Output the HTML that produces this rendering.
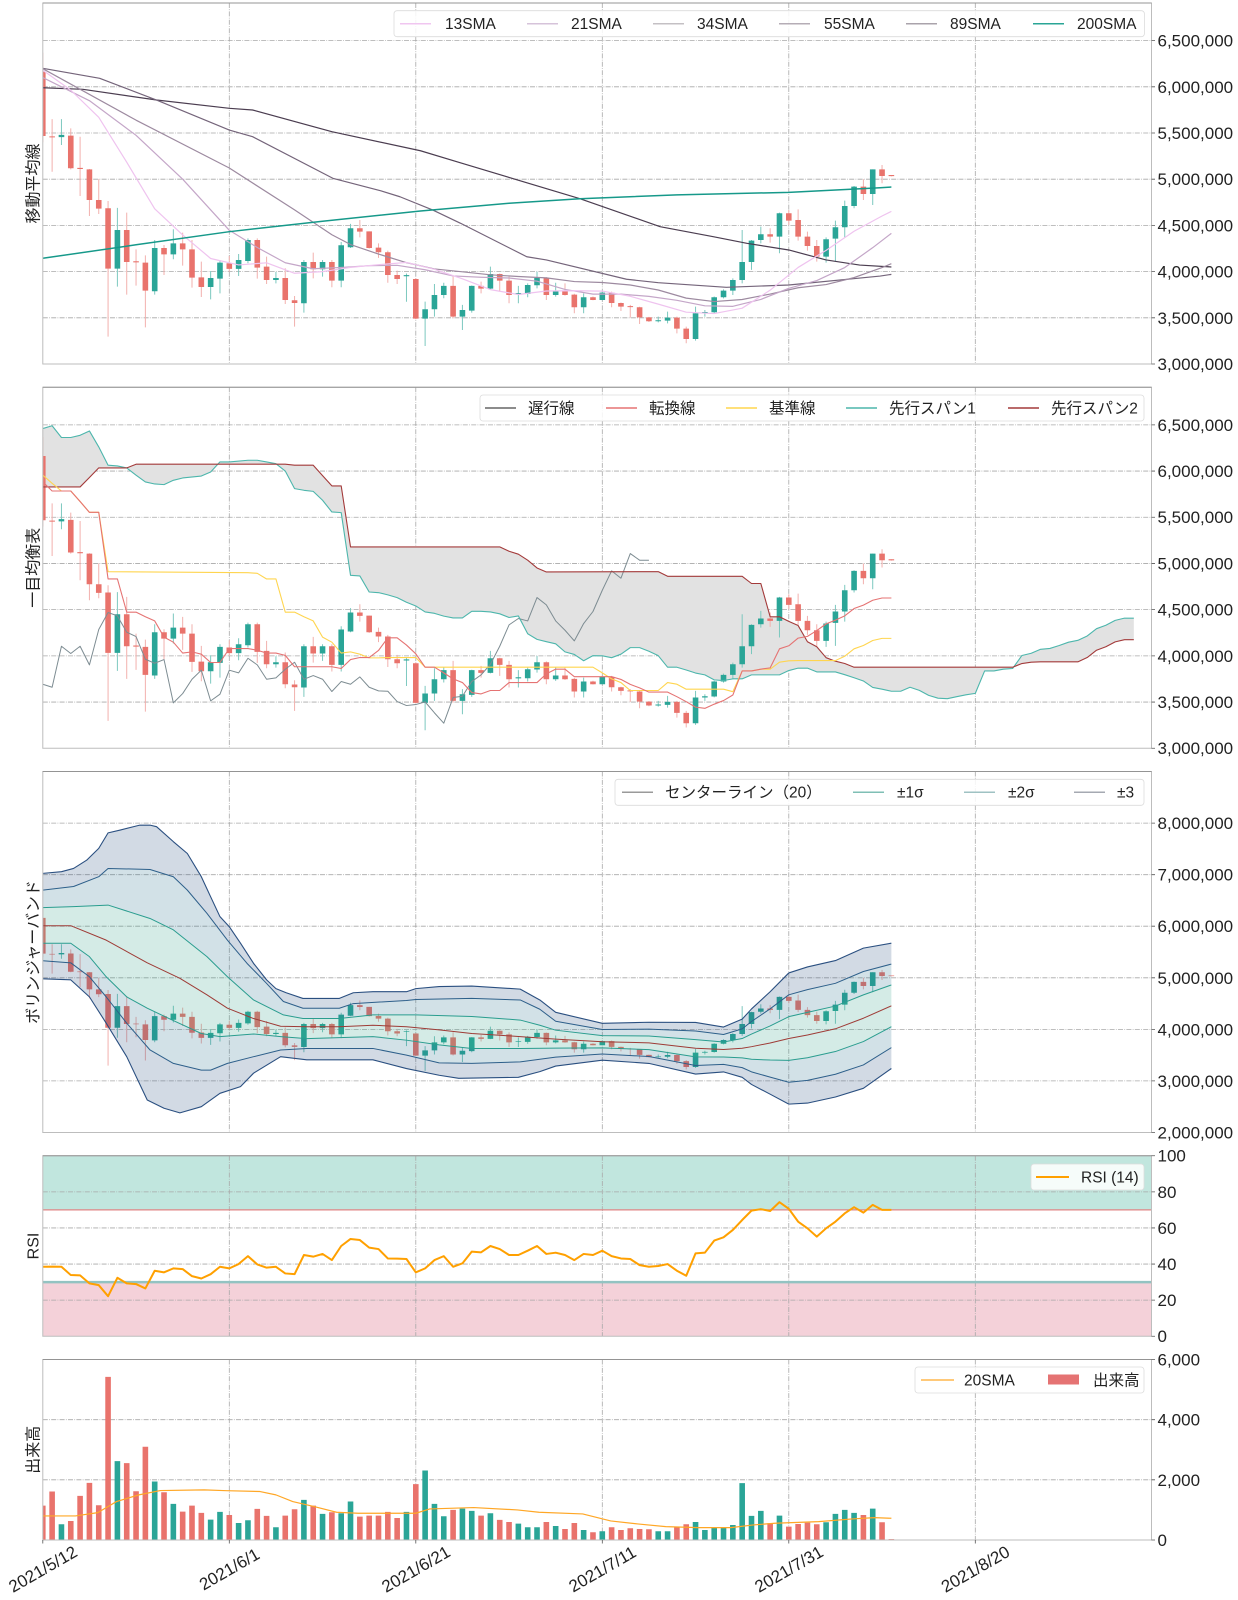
<!DOCTYPE html>
<html><head><meta charset="utf-8">
<style>
html,body{margin:0;padding:0;background:#fff;}
svg{display:block;}
text{font-family:"Liberation Sans","Noto Sans CJK JP",sans-serif;fill:#222;}
.g{stroke:#a8a8a8;stroke-width:0.8;stroke-dasharray:5,1.3,0.8,1.3;fill:none;}
.sp{fill:none;stroke:#bdbdbd;stroke-width:1;}
.tk{stroke:#555;stroke-width:0.8;}
.yt{font-size:17px;}
.lg{font-size:15.5px;}
.lb{fill:#fff;fill-opacity:0.85;stroke:#dcdcdc;stroke-width:0.8;}
</style></head>
<body>
<svg width="1238" height="1600" viewBox="0 0 1238 1600" xmlns="http://www.w3.org/2000/svg">
<defs>
<clipPath id="c0"><rect x="42.8" y="3" width="1108.7" height="361"/></clipPath>
<clipPath id="c1"><rect x="42.8" y="387.25" width="1108.7" height="361"/></clipPath>
<clipPath id="c2"><rect x="42.8" y="771.5" width="1108.7" height="361"/></clipPath>
<clipPath id="c3"><rect x="42.8" y="1155.75" width="1108.7" height="180.5"/></clipPath>
<clipPath id="c4"><rect x="42.8" y="1359.5" width="1108.7" height="180.5"/></clipPath>
<g id="cdl">
<path fill="#f2b0ad" d="M-.054 5.4h.107v.97h-.107zM.946 5.081h.107v.569h-.107zM2.946 5.107h.107v.443h-.107zM3.946 4.818h.107v.642h-.107zM4.946 4.602h.107v.508h-.107zM5.946 4.624h.107v.376h-.107zM6.946 3.296h.107v1.468h-.107zM8.946 3.751h.107v.887h-.107zM9.946 3.848h.107v.393h-.107zM10.946 3.397h.107v.779h-.107zM12.946 3.963h.107v.325h-.107zM14.946 4.065h.107v.357h-.107zM15.946 3.826h.107v.516h-.107zM16.946 3.725h.107v.383h-.107zM19.946 3.999h.107v.17h-.107zM22.946 3.924h.107v.436h-.107zM23.946 3.866h.107v.296h-.107zM25.946 3.65h.107v.386h-.107zM26.946 3.404h.107v.332h-.107zM28.946 3.927h.107v.278h-.107zM30.946 3.83h.107v.296h-.107zM33.946 4.371h.107v.188h-.107zM34.946 4.249h.107v.187h-.107zM35.946 4.148h.107v.158h-.107zM36.946 3.88h.107v.347h-.107zM37.946 3.866h.107v.144h-.107zM39.946 3.484h.107v.446h-.107zM43.946 3.494h.107v.451h-.107zM46.946 3.765h.107v.126h-.107zM48.946 3.783h.107v.197h-.107zM49.946 3.657h.107v.288h-.107zM53.946 3.693h.107v.247h-.107zM55.946 3.74h.107v.133h-.107zM56.946 3.549h.107v.211h-.107zM58.946 3.69h.107v.04h-.107zM60.946 3.614h.107v.169h-.107zM61.946 3.574h.107v.091h-.107zM62.946 3.502h.107v.138h-.107zM63.946 3.433h.107v.187h-.107zM64.946 3.455h.107v.055h-.107zM67.946 3.332h.107v.181h-.107zM68.946 3.224h.107v.18h-.107zM77.946 4.313h.107v.156h-.107zM79.946 4.505h.107v.162h-.107zM80.946 4.335h.107v.339h-.107zM81.946 4.227h.107v.205h-.107zM82.946 4.108h.107v.234h-.107zM87.946 4.775h.107v.225h-.107zM89.946 4.956h.107v.198h-.107zM90.946 5.03h.107v.015h-.107z"/>
<path fill="#7cc8bf" d="M1.946 5.37h.107v.28h-.107zM7.946 3.837h.107v.852h-.107zM11.946 3.751h.107v.591h-.107zM13.946 4.133h.107v.325h-.107zM17.946 3.7h.107v.307h-.107zM18.946 3.765h.107v.361h-.107zM20.946 3.953h.107v.238h-.107zM21.946 4.09h.107v.27h-.107zM24.946 3.873h.107v.123h-.107zM27.946 3.556h.107v.57h-.107zM29.946 3.945h.107v.181h-.107zM31.946 3.83h.107v.491h-.107zM32.946 4.256h.107v.26h-.107zM38.946 3.674h.107v.306h-.107zM40.946 3.195h.107v.48h-.107zM41.946 3.513h.107v.353h-.107zM42.946 3.711h.107v.169h-.107zM44.946 3.368h.107v.272h-.107zM45.946 3.556h.107v.294h-.107zM47.946 3.81h.107v.244h-.107zM50.946 3.657h.107v.188h-.107zM51.946 3.722h.107v.151h-.107zM52.946 3.819h.107v.181h-.107zM54.946 3.729h.107v.151h-.107zM57.946 3.549h.107v.216h-.107zM59.946 3.69h.107v.093h-.107zM65.946 3.451h.107v.062h-.107zM66.946 3.44h.107v.127h-.107zM69.946 3.253h.107v.368h-.107zM70.946 3.513h.107v.072h-.107zM71.946 3.55h.107v.18h-.107zM72.946 3.71h.107v.098h-.107zM73.946 3.747h.107v.18h-.107zM74.946 3.873h.107v.577h-.107zM75.946 4.018h.107v.324h-.107zM76.946 4.306h.107v.181h-.107zM78.946 4.198h.107v.44h-.107zM83.946 4.097h.107v.274h-.107zM84.946 4.108h.107v.444h-.107zM85.946 4.371h.107v.397h-.107zM86.946 4.685h.107v.242h-.107zM88.946 4.721h.107v.386h-.107z"/>
<path fill="#e9736c" d="M-.3 5.468h.6v.695h-.6zM.7 5.452h.6v.012h-.6zM2.7 5.118h.6v.353h-.6zM3.7 5.11h.6v.012h-.6zM4.7 4.775h.6v.332h-.6zM5.7 4.681h.6v.094h-.6zM6.7 4.032h.6v.653h-.6zM8.7 4.104h.6v.346h-.6zM9.7 4.1h.6v.012h-.6zM10.7 3.794h.6v.303h-.6zM12.7 4.187h.6v.069h-.6zM14.7 4.241h.6v.065h-.6zM15.7 3.935h.6v.306h-.6zM16.7 3.834h.6v.104h-.6zM19.7 4.029h.6v.061h-.6zM22.7 4.043h.6v.299h-.6zM23.7 3.909h.6v.145h-.6zM25.7 3.693h.6v.238h-.6zM26.7 3.66h.6v.03h-.6zM28.7 4.025h.6v.079h-.6zM30.7 3.902h.6v.202h-.6zM33.7 4.433h.6v.036h-.6zM34.7 4.256h.6v.18h-.6zM35.7 4.209h.6v.05h-.6zM36.7 3.963h.6v.246h-.6zM37.7 3.92h.6v.043h-.6zM39.7 3.491h.6v.429h-.6zM43.7 3.513h.6v.332h-.6zM46.7 3.816h.6v.029h-.6zM48.7 3.902h.6v.072h-.6zM49.7 3.747h.6v.155h-.6zM53.7 3.747h.6v.184h-.6zM55.7 3.747h.6v.04h-.6zM56.7 3.614h.6v.137h-.6zM58.7 3.693h.6v.029h-.6zM60.7 3.66h.6v.112h-.6zM61.7 3.621h.6v.039h-.6zM62.7 3.615h.6v.012h-.6zM63.7 3.505h.6v.109h-.6zM64.7 3.462h.6v.043h-.6zM67.7 3.383h.6v.119h-.6zM68.7 3.271h.6v.112h-.6zM77.7 4.378h.6v.026h-.6zM79.7 4.552h.6v.079h-.6zM80.7 4.378h.6v.181h-.6zM81.7 4.277h.6v.101h-.6zM82.7 4.162h.6v.115h-.6zM87.7 4.84h.6v.08h-.6zM89.7 5.035h.6v.072h-.6zM90.7 5.033h.6v.012h-.6z"/>
<path fill="#2aa597" d="M1.7 5.455h.6v.025h-.6zM7.7 4.032h.6v.418h-.6zM11.7 3.787h.6v.469h-.6zM13.7 4.187h.6v.119h-.6zM17.7 3.834h.6v.097h-.6zM18.7 3.924h.6v.173h-.6zM20.7 4.029h.6v.097h-.6zM21.7 4.115h.6v.227h-.6zM24.7 3.909h.6v.022h-.6zM27.7 3.657h.6v.447h-.6zM29.7 4.025h.6v.079h-.6zM31.7 3.902h.6v.383h-.6zM32.7 4.263h.6v.206h-.6zM38.7 3.95h.6v.012h-.6zM40.7 3.491h.6v.101h-.6zM41.7 3.592h.6v.155h-.6zM42.7 3.747h.6v.098h-.6zM44.7 3.513h.6v.072h-.6zM45.7 3.578h.6v.267h-.6zM47.7 3.816h.6v.158h-.6zM50.7 3.756h.6v.012h-.6zM51.7 3.758h.6v.097h-.6zM52.7 3.852h.6v.079h-.6zM54.7 3.747h.6v.04h-.6zM57.7 3.614h.6v.108h-.6zM59.7 3.693h.6v.079h-.6zM65.7 3.462h.6v.012h-.6zM66.7 3.469h.6v.033h-.6zM69.7 3.271h.6v.278h-.6zM70.7 3.549h.6v.014h-.6zM71.7 3.56h.6v.162h-.6zM72.7 3.722h.6v.072h-.6zM73.7 3.794h.6v.115h-.6zM74.7 3.909h.6v.195h-.6zM75.7 4.104h.6v.231h-.6zM76.7 4.342h.6v.062h-.6zM78.7 4.378h.6v.253h-.6zM83.7 4.162h.6v.188h-.6zM84.7 4.357h.6v.123h-.6zM85.7 4.48h.6v.23h-.6zM86.7 4.71h.6v.21h-.6zM88.7 4.84h.6v.267h-.6z"/>
</g>
</defs>

<!-- ===== Panel 1 ===== -->
<path class="g" d="M42.8 317.8H1151.5M42.8 271.6H1151.5M42.8 225.4H1151.5M42.8 179.2H1151.5M42.8 133H1151.5M42.8 86.8H1151.5M42.8 40.6H1151.5M229.3 3V364M415.8 3V364M602.3 3V364M788.8 3V364M975.3 3V364"/>
<g clip-path="url(#c0)">
<g transform="translate(42.8 641.2) scale(9.325 -92.4)">
<use href="#cdl"/>
<g fill="none" stroke-linejoin="round">
<polyline vector-effect="non-scaling-stroke" stroke="#4b3d50" stroke-width="1.2" points="0,5.99 4.3,5.973 12.2,5.857 20,5.767 22.5,5.749 31,5.514 40.5,5.308 44.7,5.18 57.6,4.789 66.2,4.486 71.9,4.378 75.5,4.306 80,4.234 84,4.126 87.6,4.071 91,4.05"/>
<polyline vector-effect="non-scaling-stroke" stroke="#74647a" stroke-width="1.2" points="0,6.2 6.1,6.092 12.2,5.857 20,5.532 22.5,5.46 31.1,5.01 36.2,4.876 38.3,4.81 41.8,4.667 44.8,4.523 51.9,4.161 54,4.126 62.6,3.917 66,3.88 73.3,3.83 80,3.855 89.8,3.952 91,3.97"/>
<polyline vector-effect="non-scaling-stroke" stroke="#9d8aa0" stroke-width="1.2" points="0,6.196 10,5.639 20,5.121 27,4.668 31,4.399 33,4.293 36,4.19 39,4.097 42,4.029 45,3.998 48,3.965 51,3.947 54,3.932 57,3.892 60,3.882 63,3.855 66,3.801 69,3.713 72,3.676 75,3.698 78,3.757 81,3.825 84,3.86 87,3.935 90,4.044 91,4.086"/>
<polyline vector-effect="non-scaling-stroke" stroke="#c4a6c8" stroke-width="1.2" points="0,6.1 5,5.85 10,5.475 15,5.0 20,4.447 23,4.261 26,4.096 29,4.031 32,4.045 35,4.064 38,4.068 41,4.02 44,3.953 47,3.939 50,3.931 53,3.896 56,3.807 59,3.756 62,3.756 65,3.732 68,3.689 71,3.63 74,3.624 77,3.699 80,3.819 83,3.903 86,4.044 89,4.259 91,4.414"/>
<polyline vector-effect="non-scaling-stroke" stroke="#efc3ef" stroke-width="1.2" points="0,6.179 3,5.964 6,5.67 9,5.184 12,4.679 15,4.397 18,4.142 21,4.072 24,4.095 27,3.982 30,4.0 33,4.046 36,4.075 39,4.099 42,4.025 45,3.922 48,3.805 51,3.752 54,3.79 57,3.793 60,3.789 63,3.733 66,3.648 69,3.561 72,3.546 75,3.604 78,3.799 81,4.045 84,4.23 87,4.437 90,4.602 91,4.652"/>
<polyline vector-effect="non-scaling-stroke" stroke="#16998a" stroke-width="1.5" points="0,4.144 10,4.29 20,4.432 30,4.545 40.5,4.656 50,4.74 57.6,4.789 68,4.83 80,4.858 89.8,4.908 91,4.915"/>
</g>
</g>
</g>

<!-- ===== Panel 2 ===== -->
<path class="g" d="M42.8 702.05H1151.5M42.8 655.85H1151.5M42.8 609.65H1151.5M42.8 563.45H1151.5M42.8 517.25H1151.5M42.8 471.05H1151.5M42.8 424.85H1151.5M229.3 387.25V748.25M415.8 387.25V748.25M602.3 387.25V748.25M788.8 387.25V748.25M975.3 387.25V748.25"/>
<g clip-path="url(#c1)">
<g transform="translate(42.8 1025.45) scale(9.325 -92.4)">
<polygon fill="#e2e2e2" points="0,6.46 1,6.49 2,6.363 3,6.363 4,6.387 5,6.434 6,6.261 7,6.063 8,6.055 9,6.034 10,5.955 11,5.882 12,5.86 13,5.853 14,5.9 15,5.925 17,5.946 18,5.99 19,6.099 20,6.099 22,6.117 23,6.117 24,6.099 25,6.08 26,6.0 27,5.81 28,5.792 29,5.78 30,5.684 31,5.557 32,5.55 33,4.872 34,4.865 35,4.691 36,4.684 37,4.66 38,4.63 39,4.58 40,4.54 41,4.475 42,4.46 43,4.43 44,4.41 45,4.41 46,4.482 47,4.482 48,4.475 49,4.455 50,4.415 51,4.432 52,4.239 53,4.178 54,4.153 55,4.13 56,4.043 57,4.015 58,3.947 59,4.002 60,4.0 61,3.98 62,4.018 63,4.089 64,4.089 65,4.05 66,4.002 67,3.877 68,3.877 69,3.847 70,3.814 71,3.794 72,3.74 73,3.733 74,3.751 75,3.751 76,3.794 79,3.794 80,3.841 81,3.867 82,3.867 83,3.826 85,3.826 86,3.796 87,3.763 88,3.728 89,3.658 90,3.639 91,3.617 92,3.617 93,3.66 94,3.626 95,3.572 96,3.542 97,3.536 98,3.558 99,3.578 100,3.594 101,3.837 102,3.837 103,3.856 104,3.863 105,4.004 106,4.028 107,4.071 108,4.08 109,4.112 110,4.148 111,4.168 112,4.215 113,4.294 114,4.331 115,4.384 116,4.408 117,4.408 117,4.175 116,4.175 115,4.151 114,4.098 113,4.061 112,3.982 111,3.935 107,3.935 106,3.931 105,3.917 104,3.877 87,3.877 86,3.917 85,3.942 84,3.98 83,4.098 82,4.153 81,4.328 80,4.373 79,4.423 78,4.423 77,4.783 76,4.783 75,4.861 67,4.861 66,4.911 54,4.908 53,4.951 52,5.035 51,5.1 50,5.132 49,5.179 33,5.179 32,5.839 31,5.839 30,5.95 29,6.063 27,6.063 26,6.074 10,6.074 9,6.034 6,6.034 5,5.93 4,5.828 0,5.828"/>
<use href="#cdl"/>
<g fill="none" stroke-linejoin="round">
<polyline vector-effect="non-scaling-stroke" stroke="#7d8c92" stroke-width="1" points="0,3.693 1,3.66 2,4.104 3,4.025 4,4.104 5,3.902 6,4.285 7,4.469 8,4.433 9,4.256 10,4.209 11,3.963 12,3.92 13,3.96 14,3.491 15,3.592 16,3.747 17,3.845 18,3.513 19,3.585 20,3.845 21,3.816 22,3.974 23,3.902 24,3.747 25,3.762 26,3.855 27,3.931 28,3.747 29,3.787 30,3.747 31,3.614 32,3.722 33,3.693 34,3.772 35,3.66 36,3.621 37,3.617 38,3.505 39,3.462 40,3.473 41,3.502 42,3.383 43,3.271 44,3.549 45,3.563 46,3.722 47,3.794 48,3.909 49,4.104 50,4.335 51,4.404 52,4.378 53,4.631 54,4.552 55,4.378 56,4.277 57,4.162 58,4.35 59,4.48 60,4.71 61,4.92 62,4.84 63,5.107 64,5.035 65,5.035"/>
<polyline vector-effect="non-scaling-stroke" stroke="#4db6ac" stroke-width="1.1" points="0,6.46 1,6.49 2,6.363 3,6.363 4,6.387 5,6.434 6,6.261 7,6.063 8,6.055 9,6.034 10,5.955 11,5.882 12,5.86 13,5.853 14,5.9 15,5.925 17,5.946 18,5.99 19,6.099 20,6.099 22,6.117 23,6.117 24,6.099 25,6.08 26,6.0 27,5.81 28,5.792 29,5.78 30,5.684 31,5.557 32,5.55 33,4.872 34,4.865 35,4.691 36,4.684 37,4.66 38,4.63 39,4.58 40,4.54 41,4.475 42,4.46 43,4.43 44,4.41 45,4.41 46,4.482 47,4.482 48,4.475 49,4.455 50,4.415 51,4.432 52,4.239 53,4.178 54,4.153 55,4.13 56,4.043 57,4.015 58,3.947 59,4.002 60,4.0 61,3.98 62,4.018 63,4.089 64,4.089 65,4.05 66,4.002 67,3.877 68,3.877 69,3.847 70,3.814 71,3.794 72,3.74 73,3.733 74,3.751 75,3.751 76,3.794 79,3.794 80,3.841 81,3.867 82,3.867 83,3.826 85,3.826 86,3.796 87,3.763 88,3.728 89,3.658 90,3.639 91,3.617 92,3.617 93,3.66 94,3.626 95,3.572 96,3.542 97,3.536 98,3.558 99,3.578 100,3.594 101,3.837 102,3.837 103,3.856 104,3.863 105,4.004 106,4.028 107,4.071 108,4.08 109,4.112 110,4.148 111,4.168 112,4.215 113,4.294 114,4.331 115,4.384 116,4.408 117,4.408"/>
<polyline vector-effect="non-scaling-stroke" stroke="#a33a3a" stroke-width="1.1" points="0,5.828 4,5.828 5,5.93 6,6.034 9,6.034 10,6.074 26,6.074 27,6.063 29,6.063 30,5.95 31,5.839 32,5.839 33,5.179 49,5.179 50,5.132 51,5.1 52,5.035 53,4.951 54,4.908 66,4.911 67,4.861 75,4.861 76,4.783 77,4.783 78,4.423 79,4.423 80,4.373 81,4.328 82,4.153 83,4.098 84,3.98 85,3.942 86,3.917 87,3.877 104,3.877 105,3.917 106,3.931 107,3.935 111,3.935 112,3.982 113,4.061 114,4.098 115,4.151 116,4.175 117,4.175"/>
<polyline vector-effect="non-scaling-stroke" stroke="#ffd54f" stroke-width="1.1" points="0,5.955 1,5.867 2,5.784 3,5.784 4,5.67 5,5.553 6,5.553 7,4.911 22,4.9 23,4.893 24,4.832 25,4.833 26,4.473 27,4.473 28,4.423 29,4.378 30,4.203 31,4.148 32,4.03 33,4.043 34,4.018 35,3.978 36,3.978 37,3.982 40,3.982 41,3.877 59,3.877 60,3.816 61,3.751 62,3.711 63,3.625 66,3.625 67,3.711 68,3.693 69,3.639 73,3.639 74,3.612 75,3.837 76,3.837 77,3.856 78,3.856 79,3.931 80,3.946 81,3.949 85,3.949 86,3.996 87,4.076 88,4.112 89,4.166 90,4.189 91,4.189"/>
<polyline vector-effect="non-scaling-stroke" stroke="#e57373" stroke-width="1.1" points="0,5.882 1,5.784 3,5.784 4,5.67 5,5.553 6,5.553 7,4.832 8,4.833 9,4.473 10,4.473 11,4.423 12,4.378 13,4.203 14,4.148 15,4.03 16,4.043 17,4.018 18,3.928 19,3.928 20,4.079 22,4.079 23,4.061 24,4.03 25,4.03 26,4.005 27,3.882 31,3.882 32,3.863 33,3.96 34,3.982 35,3.982 36,4.058 37,4.195 38,4.195 39,4.117 40,4.022 41,3.877 42,3.877 43,3.816 44,3.751 45,3.711 46,3.603 47,3.588 48,3.625 49,3.625 50,3.711 53,3.711 54,3.805 55,3.856 56,3.856 57,3.775 61,3.775 62,3.745 63,3.691 64,3.653 65,3.608 67,3.608 68,3.558 69,3.504 70,3.445 71,3.432 72,3.477 73,3.516 74,3.576 75,3.837 76,3.837 77,3.856 78,3.87 79,4.076 80,4.109 81,4.192 82,4.211 83,4.274 84,4.346 85,4.386 86,4.433 87,4.512 88,4.549 89,4.602 90,4.626 91,4.626"/>
</g>
</g>
</g>

<!-- ===== Panel 3 ===== -->
<path class="g" d="M42.8 1080.9H1151.5M42.8 1029.4H1151.5M42.8 977.8H1151.5M42.8 926.2H1151.5M42.8 874.7H1151.5M42.8 823.1H1151.5M229.3 771.5V1132.5M415.8 771.5V1132.5M602.3 771.5V1132.5M788.8 771.5V1132.5M975.3 771.5V1132.5"/>
<g clip-path="url(#c2)">
<g transform="translate(42.8 1235.64) scale(9.325 -51.57)">
<use href="#cdl"/>
<polygon fill="rgb(30,70,120)" fill-opacity="0.2" points="0,7.025 2,7.057 3.3,7.12 4.7,7.28 6,7.51 7,7.81 8.3,7.865 10.4,7.96 11.5,7.96 12.2,7.93 14,7.64 15.5,7.41 17,6.96 18,6.57 19,6.185 20,5.99 21.2,5.67 22.6,5.28 24,4.96 25,4.79 26.1,4.71 27.9,4.6 31.8,4.6 33.3,4.71 35.4,4.73 39,4.73 40,4.79 42.5,4.83 46,4.84 51.2,4.78 53.3,4.57 55,4.33 60,4.117 65,4.138 70,4.135 73,4.045 75,4.198 76,4.396 78,4.729 80,5.094 82,5.21 85,5.334 88,5.575 91,5.671 91,5.266 88,5.122 85,4.893 82,4.77 80,4.67 78,4.398 76,4.152 75,4.01 73,3.9 70,3.968 65,4.005 60,3.998 55,4.158 53.3,4.39 51.2,4.57 46,4.6 40,4.58 39,4.56 33.3,4.5 31.8,4.41 27.9,4.41 25.8,4.54 24,4.89 21.9,5.28 19.8,5.73 17.6,6.25 15.5,6.7 14,6.96 11.5,7.1 7,7.12 6,6.96 3.3,6.77 0,6.7"/>
<polygon fill="rgb(30,105,135)" fill-opacity="0.2" points="0,6.7 3.3,6.77 6,6.96 7,7.12 11.5,7.1 14,6.96 15.5,6.7 17.6,6.25 19.8,5.73 21.9,5.28 24,4.89 25.8,4.54 27.9,4.41 31.8,4.41 33.3,4.5 39,4.56 40,4.58 46,4.6 51.2,4.57 53.3,4.39 55,4.158 60,3.998 65,4.005 70,3.968 73,3.9 75,4.01 76,4.152 78,4.398 80,4.67 82,4.77 85,4.893 88,5.122 91,5.266 91,4.861 88,4.669 85,4.452 82,4.33 80,4.246 78,4.067 76,3.908 75,3.822 73,3.755 70,3.801 65,3.872 60,3.879 55,3.984 53.3,4.08 51.2,4.18 46,4.25 40,4.28 35.4,4.28 31.8,4.21 27.9,4.21 25.8,4.28 22.6,4.57 19.8,5.02 17.6,5.41 14,5.93 11.5,6.15 7,6.41 3.3,6.38 0,6.36"/>
<polygon fill="rgb(40,155,130)" fill-opacity="0.2" points="0,6.36 3.3,6.38 7,6.41 11.5,6.15 14,5.93 17.6,5.41 19.8,5.02 22.6,4.57 25.8,4.28 27.9,4.21 31.8,4.21 35.4,4.28 40,4.28 46,4.25 51.2,4.18 53.3,4.08 55,3.984 60,3.879 65,3.872 70,3.801 73,3.755 75,3.822 76,3.908 78,4.067 80,4.246 82,4.33 85,4.452 88,4.669 91,4.861 91,4.051 88,3.763 85,3.57 82,3.45 80,3.398 78,3.405 76,3.42 75,3.446 73,3.465 70,3.467 65,3.606 60,3.641 55,3.636 51.2,3.63 46,3.63 42.5,3.7 39,3.79 35.4,3.86 31.8,3.84 28.3,3.82 25.5,3.86 22.6,3.91 19,3.86 17,3.92 14,4.17 11.2,4.41 9,4.63 6.8,5.02 5,5.41 3,5.67 0,5.67"/>
<polygon fill="rgb(30,105,135)" fill-opacity="0.2" points="0,5.67 3,5.67 5,5.41 6.8,5.02 9,4.63 11.2,4.41 14,4.17 17,3.92 19,3.86 22.6,3.91 25.5,3.86 28.3,3.82 31.8,3.84 35.4,3.86 39,3.79 42.5,3.7 46,3.63 51.2,3.63 55,3.636 60,3.641 65,3.606 70,3.467 73,3.465 75,3.446 76,3.42 78,3.405 80,3.398 82,3.45 85,3.57 88,3.763 91,4.051 91,3.646 88,3.31 85,3.129 82,3.01 80,2.974 78,3.074 76,3.176 75,3.258 73,3.32 70,3.3 65,3.473 60,3.522 55,3.462 51.2,3.37 46,3.34 42.5,3.35 39,3.5 35.4,3.63 28.3,3.63 25.5,3.6 22.6,3.47 19.8,3.34 18,3.21 17,3.21 14,3.34 11.5,3.6 9,4.12 6.8,4.63 5,5.02 3,5.29 0,5.33"/>
<polygon fill="rgb(30,70,120)" fill-opacity="0.2" points="0,5.33 3,5.29 5,5.02 6.8,4.63 9,4.12 11.5,3.6 14,3.34 17,3.21 18,3.21 19.8,3.34 22.6,3.47 25.5,3.6 28.3,3.63 35.4,3.63 39,3.5 42.5,3.35 46,3.34 51.2,3.37 55,3.462 60,3.522 65,3.473 70,3.3 73,3.32 75,3.258 76,3.176 78,3.074 80,2.974 82,3.01 85,3.129 88,3.31 91,3.646 91,3.241 88,2.857 85,2.688 82,2.57 80,2.55 78,2.743 76,2.932 75,3.07 73,3.175 70,3.133 65,3.34 60,3.403 55,3.288 53.3,3.18 51,3.07 44.6,3.05 42.5,3.11 39,3.24 35.4,3.41 28.3,3.41 25.5,3.47 22.6,3.15 21.2,2.89 19,2.76 17,2.5 14.7,2.38 13,2.47 11.2,2.63 9,3.47 6.8,4.12 5,4.63 3,4.96 0,4.98"/>
<g fill="none" stroke-linejoin="round">
<polyline vector-effect="non-scaling-stroke" stroke="#2a4f80" stroke-width="1.1" points="0,7.025 2,7.057 3.3,7.12 4.7,7.28 6,7.51 7,7.81 8.3,7.865 10.4,7.96 11.5,7.96 12.2,7.93 14,7.64 15.5,7.41 17,6.96 18,6.57 19,6.185 20,5.99 21.2,5.67 22.6,5.28 24,4.96 25,4.79 26.1,4.71 27.9,4.6 31.8,4.6 33.3,4.71 35.4,4.73 39,4.73 40,4.79 42.5,4.83 46,4.84 51.2,4.78 53.3,4.57 55,4.33 60,4.117 65,4.138 70,4.135 73,4.045 75,4.198 76,4.396 78,4.729 80,5.094 82,5.21 85,5.334 88,5.575 91,5.671"/>
<polyline vector-effect="non-scaling-stroke" stroke="#2a4f80" stroke-width="1.1" points="0,4.98 3,4.96 5,4.63 6.8,4.12 9,3.47 11.2,2.63 13,2.47 14.7,2.38 17,2.5 19,2.76 21.2,2.89 22.6,3.15 25.5,3.47 28.3,3.41 35.4,3.41 39,3.24 42.5,3.11 44.6,3.05 51,3.07 53.3,3.18 55,3.288 60,3.403 65,3.34 70,3.133 73,3.175 75,3.07 76,2.932 78,2.743 80,2.55 82,2.57 85,2.688 88,2.857 91,3.241"/>
<polyline vector-effect="non-scaling-stroke" stroke="#2d5f8a" stroke-width="1" points="0,6.7 3.3,6.77 6,6.96 7,7.12 11.5,7.1 14,6.96 15.5,6.7 17.6,6.25 19.8,5.73 21.9,5.28 24,4.89 25.8,4.54 27.9,4.41 31.8,4.41 33.3,4.5 39,4.56 40,4.58 46,4.6 51.2,4.57 53.3,4.39 55,4.158 60,3.998 65,4.005 70,3.968 73,3.9 75,4.01 76,4.152 78,4.398 80,4.67 82,4.77 85,4.893 88,5.122 91,5.266"/>
<polyline vector-effect="non-scaling-stroke" stroke="#2d5f8a" stroke-width="1" points="0,5.33 3,5.29 5,5.02 6.8,4.63 9,4.12 11.5,3.6 14,3.34 17,3.21 18,3.21 19.8,3.34 22.6,3.47 25.5,3.6 28.3,3.63 35.4,3.63 39,3.5 42.5,3.35 46,3.34 51.2,3.37 55,3.462 60,3.522 65,3.473 70,3.3 73,3.32 75,3.258 76,3.176 78,3.074 80,2.974 82,3.01 85,3.129 88,3.31 91,3.646"/>
<polyline vector-effect="non-scaling-stroke" stroke="#2a9d8f" stroke-width="1" points="0,6.36 3.3,6.38 7,6.41 11.5,6.15 14,5.93 17.6,5.41 19.8,5.02 22.6,4.57 25.8,4.28 27.9,4.21 31.8,4.21 35.4,4.28 40,4.28 46,4.25 51.2,4.18 53.3,4.08 55,3.984 60,3.879 65,3.872 70,3.801 73,3.755 75,3.822 76,3.908 78,4.067 80,4.246 82,4.33 85,4.452 88,4.669 91,4.861"/>
<polyline vector-effect="non-scaling-stroke" stroke="#2a9d8f" stroke-width="1" points="0,5.67 3,5.67 5,5.41 6.8,5.02 9,4.63 11.2,4.41 14,4.17 17,3.92 19,3.86 22.6,3.91 25.5,3.86 28.3,3.82 31.8,3.84 35.4,3.86 39,3.79 42.5,3.7 46,3.63 51.2,3.63 55,3.636 60,3.641 65,3.606 70,3.467 73,3.465 75,3.446 76,3.42 78,3.405 80,3.398 82,3.45 85,3.57 88,3.763 91,4.051"/>
<polyline vector-effect="non-scaling-stroke" stroke="#9e3b36" stroke-width="1" points="0,6.01 3,6.01 6.8,5.73 11.2,5.29 14.7,4.99 17.6,4.67 19.8,4.41 22.6,4.21 25.5,4.06 28.3,4.05 31.8,4.05 35.4,4.08 39,4.05 42.5,3.99 46,3.92 51.2,3.86 55,3.81 60,3.76 65,3.739 70,3.634 73,3.61 75,3.634 76,3.664 78,3.736 80,3.822 82,3.89 85,4.011 88,4.216 91,4.456"/>
</g>
</g>
</g>

<!-- ===== Panel 4 (RSI) ===== -->
<rect x="42.8" y="1155.75" width="1108.7" height="54.15" fill="#c1e6de"/>
<rect x="42.8" y="1282.1" width="1108.7" height="54.15" fill="#f4d1d9"/>
<path class="g" d="M42.8 1300.15H1151.5M42.8 1264.05H1151.5M42.8 1227.95H1151.5M42.8 1191.85H1151.5M229.3 1155.75V1336.25M415.8 1155.75V1336.25M602.3 1155.75V1336.25M788.8 1155.75V1336.25M975.3 1155.75V1336.25"/>
<line x1="42.8" x2="1151.5" y1="1209.9" y2="1209.9" stroke="#e08585" stroke-width="1.2"/>
<line x1="42.8" x2="1151.5" y1="1282.1" y2="1282.1" stroke="#93c3c2" stroke-width="2.5"/>
<g clip-path="url(#c3)">
<g transform="translate(42.8 1336.25) scale(9.325 -1.805)">
<polyline vector-effect="non-scaling-stroke" fill="none" stroke="#ffa000" stroke-width="2" stroke-linejoin="round" points="0,38.5 1,38.6 2,38.5 3,33.9 4,33.7 5,29.3 6,28.3 7,22.2 8,32.4 9,29.3 10,28.9 11,26.5 12,36.3 13,35.4 14,37.6 15,37.2 16,33.3 17,32 18,34.4 19,38.5 20,37.6 21,40 22,44.4 23,39.8 24,38 25,38.5 26,34.8 27,34.4 28,45 29,44.1 30,45.6 31,42.2 32,50 33,53.9 34,53.3 35,49.1 36,48.3 37,43.1 38,43 39,42.8 40,35.4 41,37.6 42,42.2 43,44.4 44,38.5 45,40.4 46,46.9 47,46.5 48,50 49,48.3 50,45 51,45 52,47.4 53,50 54,45.6 55,46.3 56,45 57,42.2 58,45.6 59,45 60,47.4 61,44.4 62,43.1 63,42.8 64,39.4 65,38.5 66,38.9 67,40 68,36.3 69,33.5 70,45.9 71,46.3 72,53 73,54.8 74,58.9 75,64.4 76,69.6 77,70.4 78,69.4 79,74.3 80,70.6 81,63.5 82,59.8 83,55.2 84,59.8 85,63.5 86,68.1 87,71.5 88,68.5 89,72.8 90,70 91,70"/>
</g>
</g>

<!-- ===== Panel 5 (Volume) ===== -->
<path class="g" d="M42.8 1479.8H1151.5M42.8 1419.7H1151.5M229.3 1359.5V1540M415.8 1359.5V1540M602.3 1359.5V1540M788.8 1359.5V1540M975.3 1359.5V1540"/>
<g clip-path="url(#c4)">
<g transform="translate(42.8 1540) scale(9.325 -0.030083)">
<path fill="#e9736c" d="M-.3 0h.6v1144h-.6zM.7 0h.6v1611h-.6zM2.7 0h.6v633h-.6zM3.7 0h.6v1467h-.6zM4.7 0h.6v1900h-.6zM5.7 0h.6v1156h-.6zM6.7 0h.6v5422h-.6zM8.7 0h.6v2555h-.6zM9.7 0h.6v1622h-.6zM10.7 0h.6v3100h-.6zM12.7 0h.6v1589h-.6zM14.7 0h.6v944h-.6zM15.7 0h.6v1144h-.6zM16.7 0h.6v900h-.6zM19.7 0h.6v833h-.6zM22.7 0h.6v1033h-.6zM23.7 0h.6v800h-.6zM25.7 0h.6v811h-.6zM26.7 0h.6v1022h-.6zM28.7 0h.6v1144h-.6zM30.7 0h.6v922h-.6zM33.7 0h.6v778h-.6zM34.7 0h.6v811h-.6zM35.7 0h.6v811h-.6zM36.7 0h.6v933h-.6zM37.7 0h.6v733h-.6zM39.7 0h.6v1856h-.6zM43.7 0h.6v1000h-.6zM46.7 0h.6v811h-.6zM48.7 0h.6v667h-.6zM49.7 0h.6v600h-.6zM53.7 0h.6v600h-.6zM55.7 0h.6v367h-.6zM56.7 0h.6v567h-.6zM58.7 0h.6v256h-.6zM60.7 0h.6v422h-.6zM61.7 0h.6v333h-.6zM62.7 0h.6v389h-.6zM63.7 0h.6v367h-.6zM64.7 0h.6v356h-.6zM67.7 0h.6v444h-.6zM68.7 0h.6v522h-.6zM77.7 0h.6v556h-.6zM79.7 0h.6v444h-.6zM80.7 0h.6v533h-.6zM81.7 0h.6v578h-.6zM82.7 0h.6v522h-.6zM87.7 0h.6v833h-.6zM89.7 0h.6v589h-.6zM90.7 0h.6v30h-.6z"/>
<path fill="#2aa597" d="M1.7 0h.6v522h-.6zM7.7 0h.6v2622h-.6zM11.7 0h.6v1944h-.6zM13.7 0h.6v1200h-.6zM17.7 0h.6v678h-.6zM18.7 0h.6v933h-.6zM20.7 0h.6v567h-.6zM21.7 0h.6v656h-.6zM24.7 0h.6v422h-.6zM27.7 0h.6v1333h-.6zM29.7 0h.6v867h-.6zM31.7 0h.6v889h-.6zM32.7 0h.6v1278h-.6zM38.7 0h.6v933h-.6zM40.7 0h.6v2311h-.6zM41.7 0h.6v1200h-.6zM42.7 0h.6v789h-.6zM44.7 0h.6v1044h-.6zM45.7 0h.6v967h-.6zM47.7 0h.6v889h-.6zM50.7 0h.6v544h-.6zM51.7 0h.6v422h-.6zM52.7 0h.6v422h-.6zM54.7 0h.6v467h-.6zM57.7 0h.6v333h-.6zM59.7 0h.6v289h-.6zM65.7 0h.6v289h-.6zM66.7 0h.6v289h-.6zM69.7 0h.6v600h-.6zM70.7 0h.6v333h-.6zM71.7 0h.6v400h-.6zM72.7 0h.6v400h-.6zM73.7 0h.6v500h-.6zM74.7 0h.6v1889h-.6zM75.7 0h.6v800h-.6zM76.7 0h.6v967h-.6zM78.7 0h.6v811h-.6zM83.7 0h.6v589h-.6zM84.7 0h.6v867h-.6zM85.7 0h.6v1000h-.6zM86.7 0h.6v900h-.6zM88.7 0h.6v1044h-.6z"/>
<polyline vector-effect="non-scaling-stroke" fill="none" stroke="#ffa726" stroke-width="1.2" stroke-linejoin="round" points="0,800 3.5,800 5.9,911 7.9,1278 10.3,1500 12.6,1644 17.3,1667 19.7,1640 23.3,1611 25,1500 26.8,1278 29.1,1111 31.5,922 33.8,889 40,889 41.5,1033 46.2,1078 50.9,1000 53.2,922 57.9,867 60.9,633 63.8,533 66.8,444 70.3,411 73.8,411 76.2,500 78.5,556 83.2,611 86.8,700 89.2,744 91,722"/>
</g>
</g>

<!-- spines -->
<rect class="sp" x="42.8" y="3" width="1108.7" height="361"/>
<rect class="sp" x="42.8" y="387.25" width="1108.7" height="361"/>
<rect class="sp" x="42.8" y="771.5" width="1108.7" height="361"/>
<rect class="sp" x="42.8" y="1155.75" width="1108.7" height="180.5"/>
<rect class="sp" x="42.8" y="1359.5" width="1108.7" height="180.5"/>
<g stroke="#949494" stroke-width="1">
<line x1="42.8" x2="1151.5" y1="3" y2="3"/>
<line x1="42.8" x2="1151.5" y1="387.25" y2="387.25"/>
<line x1="42.8" x2="1151.5" y1="771.5" y2="771.5"/>
<line x1="42.8" x2="1151.5" y1="1155.75" y2="1155.75"/>
<line x1="42.8" x2="1151.5" y1="1359.5" y2="1359.5"/>
</g>

<!-- right ticks -->
<path class="tk" d="M1151.5 364h3.5M1151.5 317.8h3.5M1151.5 271.6h3.5M1151.5 225.4h3.5M1151.5 179.2h3.5M1151.5 133h3.5M1151.5 86.8h3.5M1151.5 40.6h3.5M1151.5 748.25h3.5M1151.5 702.05h3.5M1151.5 655.85h3.5M1151.5 609.65h3.5M1151.5 563.45h3.5M1151.5 517.25h3.5M1151.5 471.05h3.5M1151.5 424.85h3.5M1151.5 1132.5h3.5M1151.5 1080.9h3.5M1151.5 1029.4h3.5M1151.5 977.8h3.5M1151.5 926.2h3.5M1151.5 874.7h3.5M1151.5 823.1h3.5M1151.5 1336.25h3.5M1151.5 1300.15h3.5M1151.5 1264.05h3.5M1151.5 1227.95h3.5M1151.5 1191.85h3.5M1151.5 1155.75h3.5M1151.5 1540h3.5M1151.5 1479.8h3.5M1151.5 1419.7h3.5M1151.5 1359.5h3.5M42.8 1540v3.5M229.3 1540v3.5M415.8 1540v3.5M602.3 1540v3.5M788.8 1540v3.5M975.3 1540v3.5"/>

<!-- right tick labels -->
<g class="yt">
<text x="1157.5" y="364" dy="0.35em">3,000,000</text>
<text x="1157.5" y="317.8" dy="0.35em">3,500,000</text>
<text x="1157.5" y="271.6" dy="0.35em">4,000,000</text>
<text x="1157.5" y="225.4" dy="0.35em">4,500,000</text>
<text x="1157.5" y="179.2" dy="0.35em">5,000,000</text>
<text x="1157.5" y="133" dy="0.35em">5,500,000</text>
<text x="1157.5" y="86.8" dy="0.35em">6,000,000</text>
<text x="1157.5" y="40.6" dy="0.35em">6,500,000</text>
<text x="1157.5" y="748.25" dy="0.35em">3,000,000</text>
<text x="1157.5" y="702.05" dy="0.35em">3,500,000</text>
<text x="1157.5" y="655.85" dy="0.35em">4,000,000</text>
<text x="1157.5" y="609.65" dy="0.35em">4,500,000</text>
<text x="1157.5" y="563.45" dy="0.35em">5,000,000</text>
<text x="1157.5" y="517.25" dy="0.35em">5,500,000</text>
<text x="1157.5" y="471.05" dy="0.35em">6,000,000</text>
<text x="1157.5" y="424.85" dy="0.35em">6,500,000</text>
<text x="1157.5" y="1132.5" dy="0.35em">2,000,000</text>
<text x="1157.5" y="1080.9" dy="0.35em">3,000,000</text>
<text x="1157.5" y="1029.4" dy="0.35em">4,000,000</text>
<text x="1157.5" y="977.8" dy="0.35em">5,000,000</text>
<text x="1157.5" y="926.2" dy="0.35em">6,000,000</text>
<text x="1157.5" y="874.7" dy="0.35em">7,000,000</text>
<text x="1157.5" y="823.1" dy="0.35em">8,000,000</text>
<text x="1157.5" y="1336.25" dy="0.35em">0</text>
<text x="1157.5" y="1300.15" dy="0.35em">20</text>
<text x="1157.5" y="1264.05" dy="0.35em">40</text>
<text x="1157.5" y="1227.95" dy="0.35em">60</text>
<text x="1157.5" y="1191.85" dy="0.35em">80</text>
<text x="1157.5" y="1155.75" dy="0.35em">100</text>
<text x="1157.5" y="1540" dy="0.35em">0</text>
<text x="1157.5" y="1479.8" dy="0.35em">2,000</text>
<text x="1157.5" y="1419.7" dy="0.35em">4,000</text>
<text x="1157.5" y="1359.5" dy="0.35em">6,000</text>
</g>

<!-- x tick labels -->
<g class="yt" text-anchor="middle">
<text transform="translate(42.8,1569) rotate(-30)" dy="0.35em">2021/5/12</text>
<text transform="translate(229.3,1569) rotate(-30)" dy="0.35em">2021/6/1</text>
<text transform="translate(415.8,1569) rotate(-30)" dy="0.35em">2021/6/21</text>
<text transform="translate(602.3,1569) rotate(-30)" dy="0.35em">2021/7/11</text>
<text transform="translate(788.8,1569) rotate(-30)" dy="0.35em">2021/7/31</text>
<text transform="translate(975.3,1569) rotate(-30)" dy="0.35em">2021/8/20</text>
</g>

<!-- y labels -->
<g text-anchor="middle" style="font-size:16px">
<text transform="translate(32.7,183.5) rotate(-90)" dy="0.35em">移動平均線</text>
<text transform="translate(32.7,567.75) rotate(-90)" dy="0.35em">一目均衡表</text>
<text transform="translate(32.7,952) rotate(-90)" dy="0.35em">ボリンジャーバンド</text>
<text transform="translate(32.7,1246) rotate(-90)" dy="0.35em">RSI</text>
<text transform="translate(32.7,1449.75) rotate(-90)" dy="0.35em">出来高</text>
</g>

<!-- legend panel 1 -->
<rect class="lb" x="394" y="10.7" width="750.4" height="26" rx="3"/>
<g stroke-width="1.5">
<line x1="400" x2="431" y1="23.7" y2="23.7" stroke="#f0c6f0"/>
<line x1="527" x2="558" y1="23.7" y2="23.7" stroke="#d6c3da"/>
<line x1="653" x2="684" y1="23.7" y2="23.7" stroke="#c4c0c4"/>
<line x1="779" x2="810" y1="23.7" y2="23.7" stroke="#b5adb6"/>
<line x1="906" x2="937" y1="23.7" y2="23.7" stroke="#aaa3ab"/>
<line x1="1033" x2="1064" y1="23.7" y2="23.7" stroke="#2aa596"/>
</g>
<g class="lg">
<text x="445" y="23.7" dy="0.35em">13SMA</text>
<text x="571" y="23.7" dy="0.35em">21SMA</text>
<text x="697" y="23.7" dy="0.35em">34SMA</text>
<text x="824" y="23.7" dy="0.35em">55SMA</text>
<text x="950" y="23.7" dy="0.35em">89SMA</text>
<text x="1077" y="23.7" dy="0.35em">200SMA</text>
</g>

<!-- legend panel 2 -->
<rect class="lb" x="480" y="395" width="664" height="26" rx="3"/>
<g stroke-width="1.5">
<line x1="485" x2="516" y1="408" y2="408" stroke="#666"/>
<line x1="606" x2="637" y1="408" y2="408" stroke="#e57373"/>
<line x1="726" x2="757" y1="408" y2="408" stroke="#ffd54f"/>
<line x1="846" x2="877" y1="408" y2="408" stroke="#4db6ac"/>
<line x1="1008" x2="1039" y1="408" y2="408" stroke="#a33a3a"/>
</g>
<g class="lg">
<text x="528" y="408" dy="0.35em">遅行線</text>
<text x="649" y="408" dy="0.35em">転換線</text>
<text x="769" y="408" dy="0.35em">基準線</text>
<text x="889" y="408" dy="0.35em">先行スパン1</text>
<text x="1051" y="408" dy="0.35em">先行スパン2</text>
</g>

<!-- legend panel 3 -->
<rect class="lb" x="615" y="779.3" width="529" height="26" rx="3"/>
<g stroke-width="1.5">
<line x1="622" x2="653" y1="792.3" y2="792.3" stroke="#9a9a9a"/>
<line x1="853" x2="884" y1="792.3" y2="792.3" stroke="#7fbfb5"/>
<line x1="964" x2="995" y1="792.3" y2="792.3" stroke="#9fc2c3"/>
<line x1="1074" x2="1105" y1="792.3" y2="792.3" stroke="#a5a9b2"/>
</g>
<g class="lg">
<text x="665" y="792.3" dy="0.35em">センターライン（20）</text>
<text x="897" y="792.3" dy="0.35em">±1σ</text>
<text x="1008" y="792.3" dy="0.35em">±2σ</text>
<text x="1117" y="792.3" dy="0.35em">±3</text>
</g>

<!-- legend panel 4 -->
<rect class="lb" x="1031" y="1164" width="113" height="26" rx="3"/>
<line x1="1036" x2="1069" y1="1177" y2="1177" stroke="#ffa000" stroke-width="2"/>
<text class="lg" x="1081" y="1177" dy="0.35em">RSI (14)</text>

<!-- legend panel 5 -->
<rect class="lb" x="915" y="1367" width="229" height="26" rx="3"/>
<line x1="921" x2="954" y1="1380" y2="1380" stroke="#ffb74d" stroke-width="1.5"/>
<text class="lg" x="964" y="1380" dy="0.35em">20SMA</text>
<rect x="1048" y="1374.5" width="31" height="10" fill="#e57373"/>
<text class="lg" x="1093" y="1380" dy="0.35em">出来高</text>
</svg>
</body></html>
